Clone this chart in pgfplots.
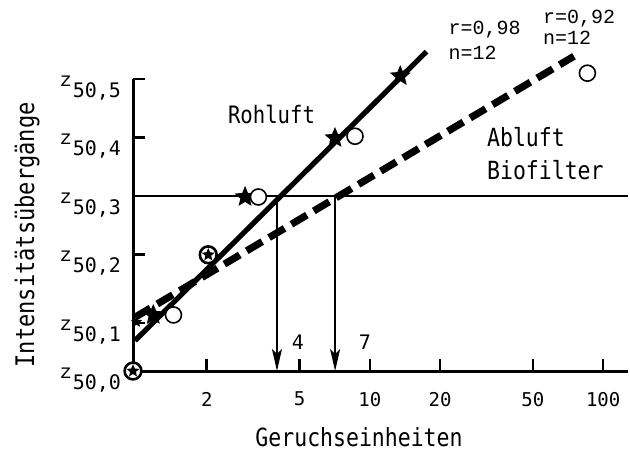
\documentclass[border=0pt]{standalone}
\usepackage{pgfplots}
\pgfplotsset{compat=1.18}
\usepackage{fontspec}
\setmainfont{DejaVu Sans Mono}
\newfontfamily\nar{DejaVu Sans Mono}[FakeStretch=0.86]
\newfontfamily\cour{Liberation Mono}
\usetikzlibrary{arrows.meta}

\pgfdeclareplotmark{fstar}{%
 \pgfpathmoveto{\pgfpointpolar{90}{\pgfplotmarksize}}%
 \pgfpathlineto{\pgfpointpolar{126}{0.45\pgfplotmarksize}}%
 \pgfpathlineto{\pgfpointpolar{162}{\pgfplotmarksize}}%
 \pgfpathlineto{\pgfpointpolar{198}{0.45\pgfplotmarksize}}%
 \pgfpathlineto{\pgfpointpolar{234}{\pgfplotmarksize}}%
 \pgfpathlineto{\pgfpointpolar{270}{0.45\pgfplotmarksize}}%
 \pgfpathlineto{\pgfpointpolar{306}{\pgfplotmarksize}}%
 \pgfpathlineto{\pgfpointpolar{342}{0.45\pgfplotmarksize}}%
 \pgfpathlineto{\pgfpointpolar{18}{\pgfplotmarksize}}%
 \pgfpathlineto{\pgfpointpolar{54}{0.45\pgfplotmarksize}}%
 \pgfpathclose\pgfusepathqfill}

\newcommand\zl[1]{{\cour\raisebox{0.55em}{z}}\kern0.5pt#1}

\begin{document}
\begin{tikzpicture}
\begin{axis}[name=ax, scale only axis, width=247.5pt, height=146pt,
  xmode=log, xmin=0.966, xmax=127.8, ymin=0, ymax=5,
  axis x line=bottom, axis y line=left,
  axis line style={-, line width=1.5pt},
  tick align=inside, major tick length=6pt,
  tick style={line width=1.3pt, black},
  xminorticks=false, yminorticks=false,
  xtick={2,5,10,20,50,100}, xticklabels={2,5,10,20,50,100},
  ytick={0,0.82,2,3,4,5},
  yticklabels={{\zl{50,0}},{\zl{50,1}},{\zl{50,2}},{\zl{50,3}},{\zl{50,4}},{\zl{50,5}}},
  xticklabel style={font=\fontsize{9.5}{10}\selectfont, yshift=-7pt},
  yticklabel style={font=\fontsize{10}{11}\selectfont, xshift=-2.5pt, yshift=-4.5pt},
  clip=false]
\addplot[line width=1pt] coordinates {(0.966,3) (127.8,3)};
\addplot[line width=0.9pt, -{Stealth[length=11pt,width=5pt,inset=2.5pt]}] coordinates {(4,3) (4,0)};
\addplot[line width=0.9pt, -{Stealth[length=11pt,width=5pt,inset=2.5pt]}] coordinates {(7.1,3) (7.1,0)};
\addplot[line width=2.6pt] coordinates {(0.985,0.52) (17.5,5.47)};
\addplot[line width=3.6pt, dash pattern=on 9pt off 4pt] coordinates {(0.985,0.92) (75,5.39)};
\addplot[only marks, mark=fstar, mark size=5.5pt] coordinates {(1.18,0.96) (2.92,2.98) (7.09,3.99) (13.5,5.05)};
\addplot[only marks, mark=fstar, mark size=3pt] coordinates {(1.0,0.84)};
\addplot[only marks, mark=*, mark size=4pt, mark options={fill=white, draw=black, line width=0.8pt}] coordinates {(1.44,0.96) (3.33,2.98) (8.64,4.02) (85.6,5.1)};
\addplot[only marks, mark=*, mark size=4.2pt, mark options={fill=white, draw=black, line width=1.3pt}] coordinates {(2.03,1.99) (0.966,0)};
\addplot[only marks, mark=fstar, mark size=3.4pt] coordinates {(2.03,1.99) (0.966,0)};
\node[font=\nar\fontsize{12}{13}\selectfont] at (axis cs:3.79,4.40) {Rohluft};
\node[font=\nar\fontsize{12.5}{13}\selectfont, anchor=west, inner sep=0pt] at (axis cs:31.7,4.01) {Abluft};
\node[font=\nar\fontsize{12.5}{13}\selectfont, anchor=west, inner sep=0pt] at (axis cs:31.7,3.44) {Biofilter};
\node[font=\cour\fontsize{10}{11}\selectfont, anchor=west, inner sep=0pt] at (axis cs:21.7,5.84) {r=0,98};
\node[font=\cour\fontsize{10}{11}\selectfont, anchor=west, inner sep=0pt] at (axis cs:21.7,5.45) {n=12};
\node[font=\cour\fontsize{10}{11}\selectfont, anchor=west, inner sep=0pt] at (axis cs:55.1,6.04) {r=0,92};
\node[font=\cour\fontsize{10}{11}\selectfont, anchor=west, inner sep=0pt] at (axis cs:55.1,5.70) {n=12};
\node[font=\fontsize{10}{11}\selectfont] at (axis cs:4.92,0.5) {4};
\node[font=\fontsize{10}{11}\selectfont] at (axis cs:9.53,0.5) {7};
\node[font=\nar\fontsize{12.8}{13}\selectfont, rotate=90] at (axis cs:0.34,2.33) {Intensitätsübergänge};
\node[font=\nar\fontsize{12.5}{13}\selectfont] at (axis cs:8.99,-1.13) {Geruchseinheiten};
\end{axis}
\pgfresetboundingbox
\path ([shift={(-66.5pt,-42.5pt)}]ax.south west) rectangle ([shift={(248.5pt,185.5pt)}]ax.south west);
\end{tikzpicture}
\end{document}
